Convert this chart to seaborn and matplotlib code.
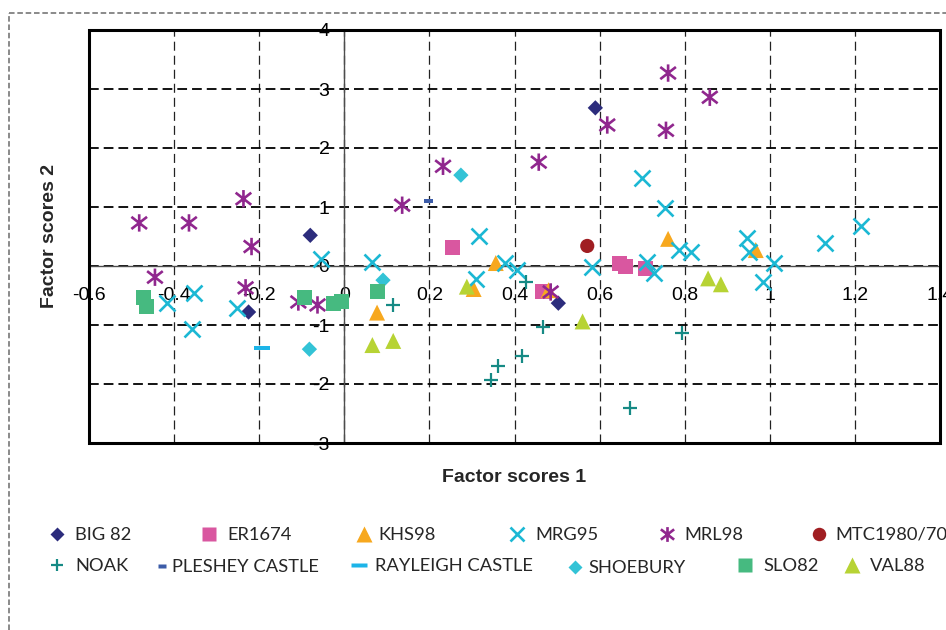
import matplotlib
matplotlib.use("Agg")
import matplotlib.pyplot as plt
from matplotlib.path import Path
from matplotlib.lines import Line2D
from matplotlib.patches import Rectangle
import seaborn as sns

# Factor scores for each assemblage: factor 1 (x) and factor 2 (y)
big82_x = [-0.08, 0.59, -0.225, 0.503]
big82_y = [0.52, 2.68, -0.78, -0.63]

er1674_x = [0.255, 0.466, 0.646, 0.660, 0.707]
er1674_y = [0.32, -0.44, 0.05, 0.00, -0.05]

khs98_x = [0.356, 0.304, 0.077, 0.480, 0.761, 0.967]
khs98_y = [0.05, -0.39, -0.79, -0.41, 0.46, 0.27]

mrg95_x = [0.700, 0.754, 1.215, 1.129, 0.946, 0.950, 0.787, 0.815, 1.009, 0.983,
           0.712, 0.728, 0.581, 0.407, 0.377, 0.316, 0.309, 0.066, -0.054,
           -0.354, -0.417, -0.358, -0.253]
mrg95_y = [1.49, 0.98, 0.68, 0.39, 0.47, 0.24, 0.27, 0.24, 0.05, -0.27,
           0.07, -0.12, -0.02, -0.07, 0.05, 0.51, -0.22, 0.07, 0.12,
           -0.46, -0.63, -1.07, -0.71]

mrl98_x = [-0.482, -0.365, -0.237, -0.218, -0.445, -0.232, -0.108, -0.063,
           0.136, 0.232, 0.457, 0.618, 0.761, 0.859, 0.756, 0.485]
mrl98_y = [0.73, 0.73, 1.14, 0.33, -0.19, -0.37, -0.61, -0.66,
           1.03, 1.69, 1.76, 2.39, 3.27, 2.86, 2.30, -0.44]

mtc_x = [0.571]
mtc_y = [0.34]

noak_x = [0.115, 0.426, 0.466, 0.417, 0.361, 0.344, 0.672, 0.794]
noak_y = [-0.66, -0.27, -1.03, -1.53, -1.69, -1.94, -2.40, -1.14]

pleshey_x = [0.197]
pleshey_y = [1.10]

rayleigh_x = [-0.194]
rayleigh_y = [-1.39]

shoebury_x = [0.274, -0.082, 0.091]
shoebury_y = [1.54, -1.41, -0.24]

slo82_x = [-0.471, -0.466, -0.094, -0.026, -0.007, 0.077]
slo82_y = [-0.54, -0.69, -0.53, -0.63, -0.61, -0.44]

val88_x = [0.288, 0.066, 0.115, 0.560, 0.855, 0.885]
val88_y = [-0.35, -1.34, -1.27, -0.94, -0.21, -0.31]

x_ticks = [-0.6, -0.4, -0.2, 0, 0.2, 0.4, 0.6, 0.8, 1, 1.2, 1.4]
x_tick_labels = ["-0.6", "-0.4", "-0.2", "0", "0.2", "0.4", "0.6", "0.8", "1", "1.2", "1.4"]
y_ticks = [-3, -2, -1, 0, 1, 2, 3, 4]
y_tick_labels = ["-3", "-2", "-1", "0", "1", "2", "3", "4"]

# Marker shapes
asterisk = Path([(0, -1), (0, 1), (-0.9, -0.7), (0.9, 0.7), (-0.9, 0.7), (0.9, -0.7)],
                [Path.MOVETO, Path.LINETO, Path.MOVETO, Path.LINETO, Path.MOVETO, Path.LINETO])
short_dash = Path([(-1, -0.4), (1, -0.4), (1, 0.4), (-1, 0.4), (-1, -0.4)],
                  [Path.MOVETO, Path.LINETO, Path.LINETO, Path.LINETO, Path.CLOSEPOLY])
long_dash = Path([(-1, -0.25), (1, -0.25), (1, 0.25), (-1, 0.25), (-1, -0.25)],
                 [Path.MOVETO, Path.LINETO, Path.LINETO, Path.LINETO, Path.CLOSEPOLY])

# name, x, y, marker, colour, marker size (pt), filled, line width
series = [
    ("BIG 82", big82_x, big82_y, "D", "#2C2C7C", 7.8, True, 0),
    ("ER1674", er1674_x, er1674_y, "s", "#D957A0", 10.8, True, 0),
    ("KHS98", khs98_x, khs98_y, "^", "#F7A81E", 11.5, True, 0),
    ("MRG95", mrg95_x, mrg95_y, "x", "#1CB8D4", 11.5, False, 1.9),
    ("MRL98", mrl98_x, mrl98_y, asterisk, "#90278E", 12.5, False, 1.9),
    ("MTC1980/70", mtc_x, mtc_y, "o", "#A01E22", 10.2, True, 0),
    ("NOAK", noak_x, noak_y, "+", "#168A85", 10.0, False, 1.6),
    ("PLESHEY CASTLE", pleshey_x, pleshey_y, short_dash, "#3C5CA8", 6.5, True, 0),
    ("RAYLEIGH CASTLE", rayleigh_x, rayleigh_y, long_dash, "#1CB4E8", 11.5, True, 0),
    ("SHOEBURY", shoebury_x, shoebury_y, "D", "#33C3D6", 7.8, True, 0),
    ("SLO82", slo82_x, slo82_y, "s", "#46BA80", 10.8, True, 0),
    ("VAL88", val88_x, val88_y, "^", "#B7D334", 11.5, True, 0),
]

sns.set_style("white")
plt.rcParams["font.family"] = ["Liberation Sans", "DejaVu Sans"]
plt.rcParams["axes.unicode_minus"] = False
plt.rcParams["lines.scale_dashes"] = False

W, H = 946, 630
fig = plt.figure(figsize=(W / 100, H / 100), dpi=100)
ax = fig.add_axes([89 / W, 1 - 443 / H, (940 - 89) / W, (443 - 30) / H])

for name, xs, ys, mk, col, ms, filled, lw in series:
    if filled:
        sns.scatterplot(x=xs, y=ys, marker=mk, s=ms ** 2, color=col,
                        edgecolor="none", linewidth=0, ax=ax, zorder=4)
    else:
        sns.scatterplot(x=xs, y=ys, marker=mk, s=ms ** 2, color=col,
                        edgecolor=col, facecolor="none" if mk is asterisk else col,
                        linewidth=lw, ax=ax, zorder=4)

ax.set_xlim(-0.6, 1.4)
ax.set_ylim(-3, 4)
ax.set_xticks(x_ticks, x_tick_labels)
ax.set_yticks(y_ticks, y_tick_labels)

# Axes cross at the origin; the box frame is drawn separately
ax.spines["left"].set_position(("data", 0))
ax.spines["bottom"].set_position(("data", 0))
for side in ("left", "bottom"):
    ax.spines[side].set_color("#4d4d4d")
    ax.spines[side].set_linewidth(1.0)
    ax.spines[side].set_zorder(3)
ax.spines["top"].set_visible(False)
ax.spines["right"].set_visible(False)
ax.add_patch(Rectangle((0, 0), 1, 1, transform=ax.transAxes, fill=False,
                       lw=2.2, ec="black", clip_on=False, zorder=6))

ax.grid(True, axis="y", color="black", linestyle=(0, (7, 3.6)), linewidth=1.3, zorder=1)
ax.grid(True, axis="x", color="#222222", linestyle=(0, (6.5, 3.6)), linewidth=0.9, zorder=1)
ax.set_axisbelow(True)

ax.tick_params(axis="x", direction="out", length=3.6, width=1, color="#4d4d4d",
               pad=11.5, labelsize=14, labelcolor="black")
ax.tick_params(axis="y", direction="out", length=3.6, width=1, color="#4d4d4d",
               pad=7, labelsize=14, labelcolor="black")

ax.set_xlabel("Factor scores 1", fontsize=14, fontweight="bold")
ax.xaxis.set_label_coords(0.5, (443 - 477) / 413)
ax.xaxis.label.set_va("center")
ax.set_ylabel("Factor scores 2", fontsize=14, fontweight="bold")
ax.yaxis.set_label_coords((49 - 89) / 851, 0.5)
ax.yaxis.label.set_va("center")
ax.yaxis.label.set_ha("center")

# Outer dashed chart frame
fig.add_artist(Line2D([9 / W, 9 / W], [0, 1 - 13 / H], transform=fig.transFigure,
                      color="#777777", lw=1.2, linestyle=(0, (4, 2))))
fig.add_artist(Line2D([9 / W, 1], [1 - 13 / H, 1 - 13 / H], transform=fig.transFigure,
                      color="#777777", lw=1.2, linestyle=(0, (4, 2))))

# Legend: one entry per series, arranged in two rows
legend_slots = [
    (57, 535, 75), (209, 535, 227), (364, 535, 378),
    (517, 535, 535), (667, 535, 684), (819, 535, 835),
    (57, 566, 75), (162, 567, 172), (359, 566, 375),
    (575, 568, 588), (745, 566, 763), (852, 566, 870),
]
fs = 13.2
fs_px = fs * 100 / 72
hl = 1.0
for (name, xs, ys, mk, col, ms, filled, lw), (mx, my, tx) in zip(series, legend_slots):
    if filled:
        h = Line2D([], [], linestyle="none", marker=mk, markersize=ms * 0.95,
                   markerfacecolor=col, markeredgecolor="none")
    else:
        h = Line2D([], [], linestyle="none", marker=mk, markersize=ms * 0.85,
                   markerfacecolor="none", markeredgecolor=col, markeredgewidth=lw)
    left = mx - hl * fs_px / 2
    pad = (tx - mx - hl * fs_px / 2) / fs_px
    fig.legend(handles=[h], labels=[name], loc="center left",
               bbox_to_anchor=(left / W, 1 - my / H), frameon=False,
               borderpad=0, borderaxespad=0, handlelength=hl, handletextpad=pad,
               prop={"family": ["Lato", "DejaVu Sans"], "size": fs})

fig.savefig("out.png", dpi=100)
